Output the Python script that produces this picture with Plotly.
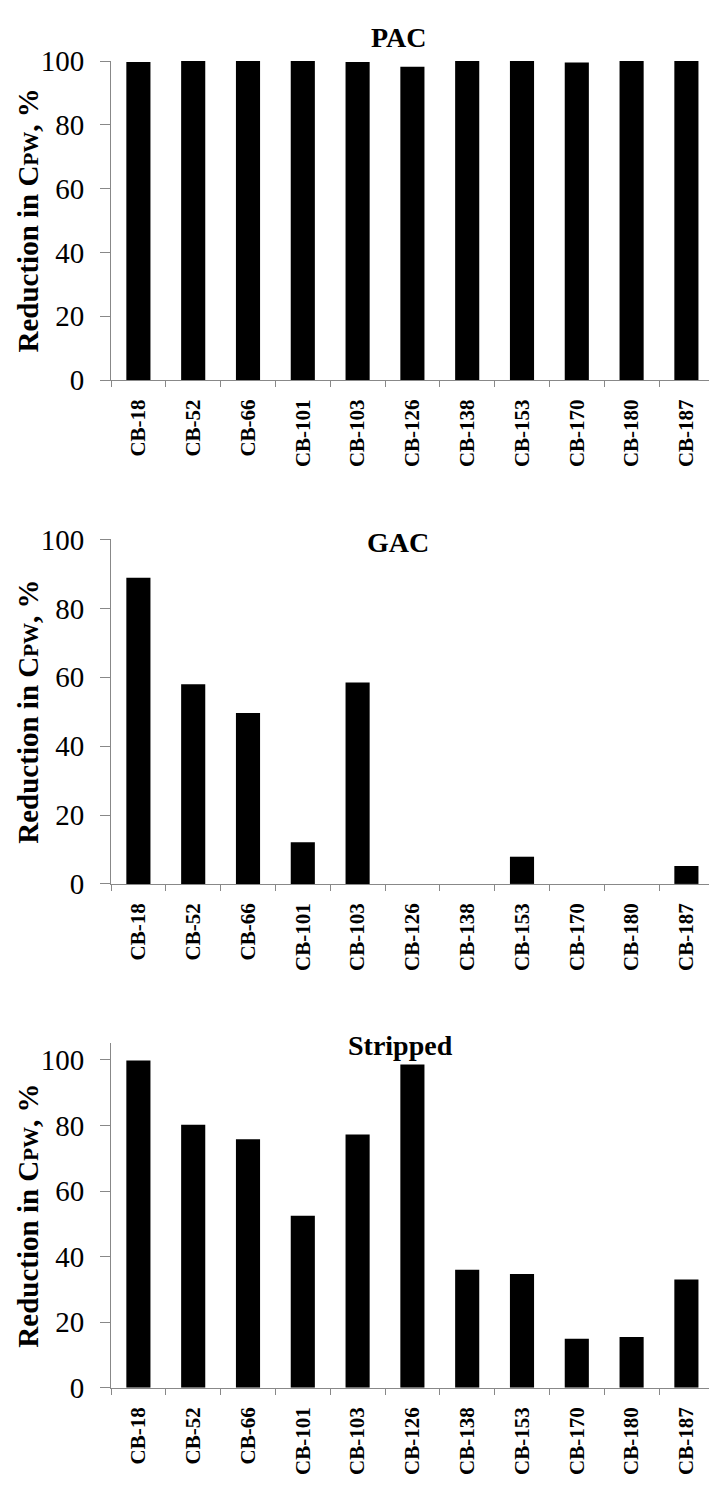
import plotly.graph_objects as go

categories = ["CB-18", "CB-52", "CB-66", "CB-101", "CB-103", "CB-126",
              "CB-138", "CB-153", "CB-170", "CB-180", "CB-187"]
pac = [99.7, 100, 100, 100, 99.7, 98.2, 100, 100, 99.5, 100, 100]
gac = [88.9, 58.0, 49.6, 12.1, 58.5, 0, 0, 7.9, 0, 0, 5.2]
stripped = [99.8, 80.2, 75.8, 52.5, 77.2, 98.6, 36.0, 34.7, 15.0, 15.5, 33.0]
panel_titles = ["PAC", "GAC", "Stripped"]
y_ticks = [0, 20, 40, 60, 80, 100]
y_label = 'Reduction in C<span style="font-size:21px">PW</span>, %'

W, H = 709, 1488
FONT = "Liberation Serif"


def fx(p):
    return p / W


def fy(p):
    return 1 - p / H


# pixel layout per panel: (top of axis, zero line, y max)
panels = [(46, 372, 100), (535, 887, 100), (1050, 1402, 105)]
title_pos = [(398, 22), (398, 538), (400, 1052)]
x_left = 111
cat_w = 54.8
x_range = [-0.5, (W - x_left) / cat_w - 0.5]

fig = go.Figure()
series = [pac, gac, stripped]

for i, vals in enumerate(series):
    n = "" if i == 0 else str(i + 1)
    fig.add_trace(go.Bar(x=categories, y=vals, xaxis="x" + n, yaxis="y" + n,
                         marker=dict(color="black", line=dict(width=0)),
                         width=0.44, showlegend=False))
    top, bot, ymax = panels[i]
    fig.layout["xaxis" + n] = dict(
        domain=[fx(x_left), 1], anchor="y" + n, range=x_range,
        type="category", tickson="boundaries", ticks="outside", ticklen=6,
        tickcolor="#888888", showline=True, linecolor="#888888", linewidth=1,
        tickangle=-90, ticklabelstandoff=10,
        tickfont=dict(family=FONT, size=21, color="black", weight="bold"),
        showgrid=False, zeroline=False, fixedrange=True)
    fig.layout["yaxis" + n] = dict(
        domain=[fy(bot), fy(top)], anchor="x" + n, range=[0, ymax],
        tickvals=y_ticks, ticks="outside", ticklen=10, tickcolor="#888888",
        showline=True, linecolor="#888888", linewidth=1, ticklabelstandoff=10,
        tickfont=dict(family=FONT, size=29, color="black"),
        showgrid=False, zeroline=False)
    tx, ty = title_pos[i]
    fig.add_annotation(x=fx(tx), y=fy(ty), xref="paper", yref="paper",
                       xanchor="center", yanchor="middle",
                       text="<b>" + panel_titles[i] + "</b>", showarrow=False,
                       font=dict(family=FONT, size=28, color="black"))
    fig.add_annotation(x=fx(28), y=fy((top + bot) / 2), xref="paper", yref="paper",
                       xanchor="center", yanchor="middle",
                       text="<b>" + y_label + "</b>", textangle=-90, showarrow=False,
                       font=dict(family=FONT, size=29, color="black"))

fig.update_layout(width=W, height=H, margin=dict(l=0, r=0, t=0, b=0),
                  paper_bgcolor="white", plot_bgcolor="white",
                  font=dict(family=FONT, color="black"))

fig.write_html("out.html")
